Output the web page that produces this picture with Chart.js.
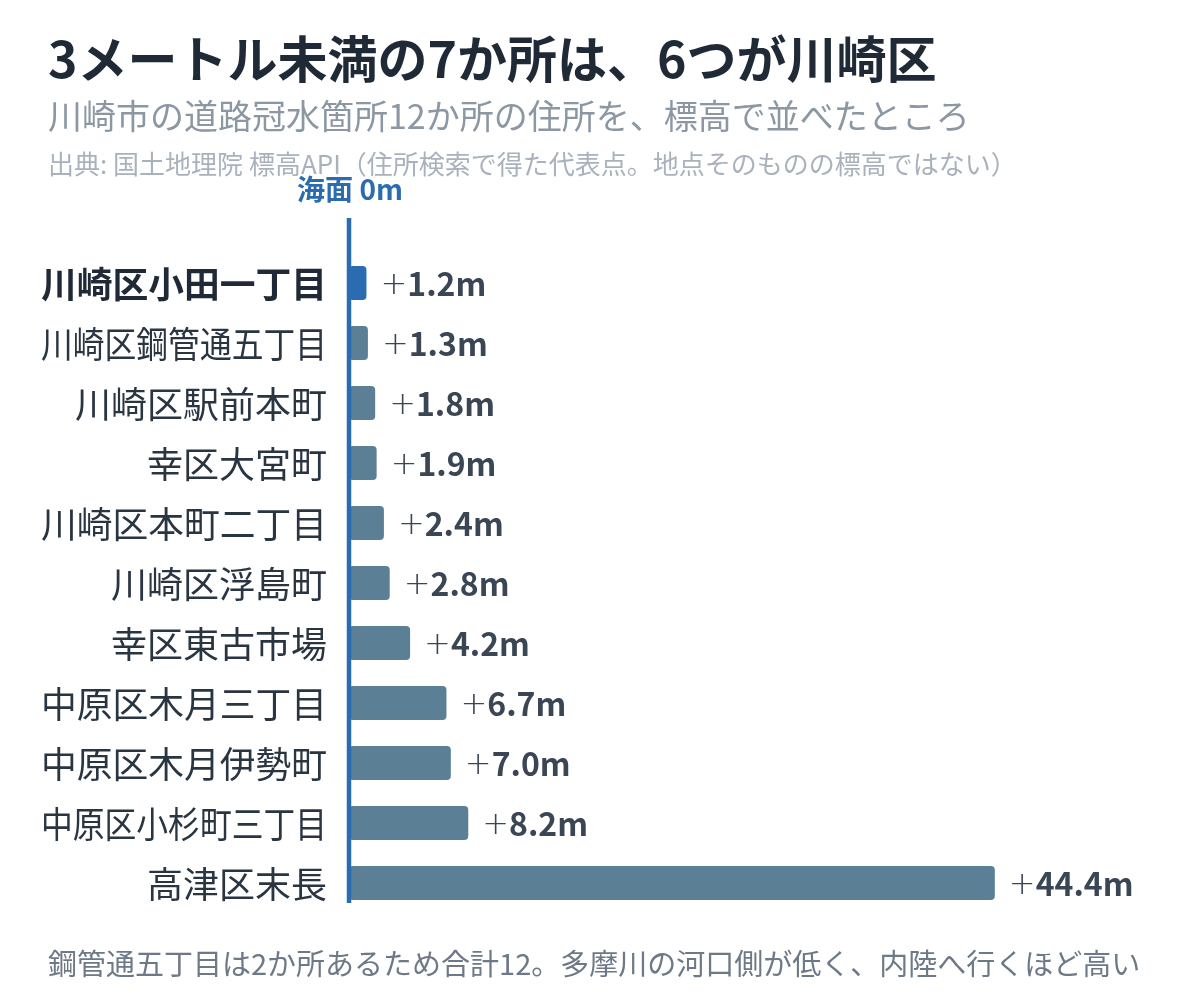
<!DOCTYPE html>
<html lang="ja">
<head>
<meta charset="utf-8">
<script src="https://cdn.jsdelivr.net/npm/chart.js@4.4.1/dist/chart.umd.min.js"></script>
<style>
  html, body { margin: 0; padding: 0; background: #ffffff; }
  #wrap { width: 1200px; height: 1008px; position: relative; }
</style>
</head>
<body>
<div id="wrap"><canvas id="chart-elev"></canvas></div>
<script>
// 川崎市 道路冠水箇所の標高 (m)
const places = [
    '川崎区小田一丁目', '川崎区鋼管通五丁目', '川崎区駅前本町', '幸区大宮町',
    '川崎区本町二丁目', '川崎区浮島町', '幸区東古市場', '中原区木月三丁目',
    '中原区木月伊勢町', '中原区小杉町三丁目', '高津区末長'
];
const elevations = [1.2, 1.3, 1.8, 1.9, 2.4, 2.8, 4.2, 6.7, 7.0, 8.2, 44.4];
const highlightIndex = 0;

const TITLE = '3メートル未満の7か所は、6つが川崎区';
const SUBTITLE = '川崎市の道路冠水箇所12か所の住所を、標高で並べたところ';
const SOURCE = '出典: 国土地理院 標高API（住所検索で得た代表点。地点そのものの標高ではない）';
const ZERO_LABEL = '海面 0m';
const FOOTNOTE = '鋼管通五丁目は2か所あるため合計12。多摩川の河口側が低く、内陸へ行くほど高い';

const COLORS = {
    bar: '#5b7f94',
    highlight: '#2b6cb0',
    zero: '#2b6cb0',
    title: '#1f2a36',
    label: '#2a3542',
    value: '#3a4654',
    subtitle: '#8b97a3',
    source: '#a9b2bc',
    foot: '#6d7986',
};
const JP = "'Noto Sans CJK JP', sans-serif";

// ─── custom drawing: texts, zero line, labels ───────────────────────────────
const decorPlugin = {
    id: 'decor',
    afterDatasetsDraw(chart) {
        const { ctx, chartArea } = chart;
        const x = chart.scales.x;
        const y = chart.scales.y;
        const meta = chart.getDatasetMeta(0);
        const x0 = x.getPixelForValue(0);

        ctx.save();
        // zero line
        ctx.strokeStyle = COLORS.zero;
        ctx.lineWidth = 4.5;
        ctx.beginPath();
        ctx.moveTo(x0, chartArea.top - 35);
        ctx.lineTo(x0, chartArea.bottom - 10);
        ctx.stroke();

        ctx.fillStyle = COLORS.zero;
        ctx.font = `bold 28px ${JP}`;
        ctx.textAlign = 'center';
        ctx.textBaseline = 'alphabetic';
        ctx.fillText(ZERO_LABEL, x0 + 1, 200);

        // category labels
        ctx.textAlign = 'right';
        ctx.textBaseline = 'middle';
        places.forEach((p, i) => {
            const py = y.getPixelForTick(i);
            const hi = i === highlightIndex;
            ctx.font = `${hi ? 'bold ' : ''}36px ${JP}`;
            ctx.fillStyle = hi ? COLORS.title : COLORS.label;
            ctx.fillText(p, 327, py + 1, 286);
        });

        // value labels: thin plus + bold number
        ctx.textAlign = 'left';
        elevations.forEach((v, i) => {
            const bar = meta.data[i];
            let px = bar.x + 14;
            const py = bar.y + 1;
            ctx.fillStyle = COLORS.value;
            ctx.font = `200 32px 'DejaVu Sans', ${JP}`;
            ctx.fillText('+', px, py + 2);
            px += ctx.measureText('+').width;
            ctx.font = `bold 32px ${JP}`;
            ctx.fillText(v.toFixed(1) + 'm', px, py);
        });

        // headings
        ctx.textBaseline = 'alphabetic';
        ctx.fillStyle = COLORS.title;
        ctx.font = `bold 50px ${JP}`;
        ctx.fillText(TITLE, 48, 78);
        ctx.fillStyle = COLORS.subtitle;
        ctx.font = `34px ${JP}`;
        ctx.fillText(SUBTITLE, 48, 129);
        ctx.fillStyle = COLORS.source;
        ctx.font = `26px ${JP}`;
        ctx.fillText(SOURCE, 48, 174);
        ctx.fillStyle = COLORS.foot;
        ctx.font = `29px ${JP}`;
        ctx.fillText(FOOTNOTE, 48, 975);
        ctx.restore();
    }
};

new Chart(document.getElementById('chart-elev').getContext('2d'), {
    type: 'bar',
    data: {
        labels: places,
        datasets: [{
            data: elevations,
            backgroundColor: elevations.map((_, i) => i === highlightIndex ? COLORS.highlight : COLORS.bar),
            borderRadius: 4,
            borderSkipped: false,
            barPercentage: 0.57,
            categoryPercentage: 1,
        }]
    },
    options: {
        indexAxis: 'y',
        responsive: true,
        maintainAspectRatio: false,
        animation: false,
        layout: { padding: { left: 349, right: 51, top: 253, bottom: 95 } },
        plugins: {
            legend: { display: false },
            tooltip: { enabled: false },
        },
        scales: {
            x: { min: 0, max: 55, display: false },
            y: { display: false },
        }
    },
    plugins: [decorPlugin]
});
</script>
</body>
</html>
